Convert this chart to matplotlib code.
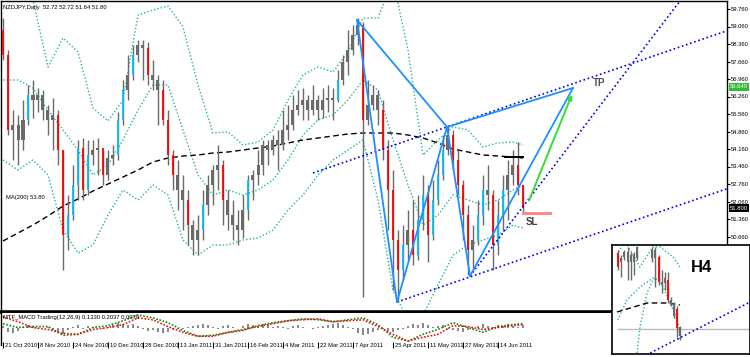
import numpy as np
import matplotlib
matplotlib.use("Agg")
import matplotlib.pyplot as plt
from matplotlib.transforms import ScaledTranslation

plt.rcParams['font.family'] = ['Liberation Sans', 'DejaVu Sans']

symbol = "NZDJPY,Daily"

# daily candles
first_open = 58.92
close = [57.92, 54.92, 55.12, 54.52, 55.32, 56.32, 56.12, 56.32, 55.72, 55.32,
         55.52, 54.12, 50.72, 51.52, 52.72, 54.20, 52.52, 53.92, 54.12, 54.20,
         53.12, 53.80, 53.92, 55.32, 56.52, 57.12, 57.92, 58.32, 58.20, 57.12,
         56.92, 56.52, 55.32, 53.92, 53.12, 52.52, 52.12, 51.12, 50.52, 50.92,
         51.92, 52.72, 53.32, 53.52, 52.12, 51.52, 51.12, 50.92, 51.72, 52.92,
         53.12, 53.52, 54.32, 54.12, 54.52, 54.32, 54.92, 55.12, 55.72, 55.92,
         56.12, 55.72, 56.12, 55.72, 56.12, 56.20, 56.12, 56.92, 57.64, 58.12,
         58.72, 59.12, 55.32, 55.92, 56.32, 55.72, 54.12, 52.52, 50.52, 49.32,
         50.32, 50.92, 49.92, 51.32, 52.32, 50.72, 52.12, 53.12, 54.12, 54.72,
         53.72, 52.72, 51.52, 50.12, 50.52, 51.52, 52.52, 52.32, 50.32, 51.52,
         52.52, 53.12, 53.52, 52.72, 51.80]
high = [59.40, 58.12, 55.72, 55.52, 56.12, 56.72, 56.92, 56.60, 56.52, 55.92,
        56.20, 55.72, 54.12, 52.32, 53.52, 54.52, 54.60, 54.52, 54.52, 54.60,
        54.12, 54.12, 54.32, 55.64, 56.92, 57.92, 58.32, 58.52, 58.52, 58.44,
        57.72, 57.12, 56.92, 55.72, 54.12, 53.72, 53.12, 52.52, 51.32, 51.52,
        52.52, 53.12, 53.52, 54.32, 53.72, 52.52, 52.12, 51.72, 52.32, 53.12,
        53.32, 54.12, 54.52, 54.52, 54.72, 54.92, 55.72, 55.92, 56.32, 56.52,
        56.60, 56.32, 56.72, 56.32, 56.60, 56.72, 56.60, 57.32, 57.92, 58.92,
        59.12, 59.40, 59.24, 56.92, 56.72, 56.52, 56.12, 54.52, 53.32, 50.92,
        51.12, 51.72, 52.12, 52.32, 53.12, 52.72, 52.92, 53.72, 54.72, 55.12,
        54.92, 54.12, 52.92, 51.92, 51.12, 52.12, 53.12, 53.52, 52.52, 52.12,
        53.12, 53.72, 54.12, 54.44, 52.72]
low = [57.72, 54.72, 53.72, 53.52, 54.12, 55.12, 55.40, 55.64, 55.32, 54.72,
       54.12, 53.52, 49.32, 50.12, 51.32, 52.12, 52.12, 52.32, 53.52, 53.12,
       52.72, 52.92, 53.52, 53.72, 55.12, 56.12, 56.92, 57.64, 56.92, 56.72,
       56.52, 55.12, 55.12, 53.52, 52.52, 51.72, 50.92, 50.32, 49.92, 49.92,
       50.52, 51.52, 51.92, 52.52, 51.12, 50.92, 50.52, 50.32, 50.60, 51.32,
       52.12, 52.72, 53.12, 53.52, 53.92, 53.32, 54.12, 54.52, 54.92, 55.52,
       55.32, 55.32, 55.52, 55.32, 55.40, 55.64, 55.32, 56.04, 56.72, 57.12,
       57.92, 58.32, 48.24, 55.12, 55.72, 55.12, 53.72, 50.92, 48.52, 48.12,
       48.92, 49.72, 49.52, 49.72, 50.92, 49.64, 50.52, 51.92, 52.92, 53.92,
       53.32, 52.32, 50.52, 49.12, 49.40, 50.32, 51.12, 51.72, 49.32, 49.92,
       50.92, 51.32, 52.72, 52.32, 51.64]

# indicator samples (every third bar)
ind_idx = [0, 3, 6, 9, 12, 15, 18, 21, 24, 27, 30, 33, 36, 39, 42, 45, 48, 51,
           54, 57, 60, 63, 66, 69, 72, 75, 78, 81, 84, 87, 90, 93, 96, 99, 102, 104]
bb_upper = [61.72, 60.92, 60.12, 57.44, 58.60, 58.04, 55.80, 55.28, 56.12, 59.52,
            59.72, 59.88, 59.04, 56.72, 54.80, 54.84, 54.32, 54.44, 54.92, 56.12,
            57.12, 57.44, 57.24, 58.04, 59.40, 59.40, 60.92, 58.12, 53.92, 54.52,
            55.04, 54.92, 54.24, 54.40, 54.44, 54.32]
bb_mid = [56.92, 56.92, 56.60, 55.72, 54.92, 54.12, 53.12, 53.52, 54.52, 55.72,
          56.72, 56.72, 54.92, 53.12, 52.32, 52.52, 52.32, 52.52, 52.92, 53.72,
          54.72, 55.32, 55.52, 56.12, 56.92, 56.52, 54.52, 52.72, 51.12, 51.52,
          52.32, 52.12, 51.92, 52.12, 52.52, 52.72]
bb_lower = [53.72, 53.32, 53.72, 53.12, 50.92, 50.00, 50.32, 51.52, 52.52, 52.12,
            52.72, 52.32, 50.52, 49.92, 50.32, 50.32, 50.52, 50.60, 50.92, 51.72,
            52.32, 53.12, 53.72, 54.12, 54.52, 52.12, 48.52, 47.32, 47.52, 48.72,
            49.92, 50.32, 50.52, 50.72, 51.12, 51.00]
ma200 = [50.48, 50.80, 51.12, 51.48, 51.88, 52.16, 52.48, 52.76, 53.04, 53.32,
         53.64, 53.80, 53.88, 53.92, 54.00, 54.04, 54.12, 54.20, 54.28, 54.40,
         54.52, 54.60, 54.68, 54.76, 54.80, 54.80, 54.80, 54.72, 54.60, 54.40,
         54.16, 54.04, 53.92, 53.88, 53.84, 53.80]
macd_red = [0.22, 0.12, 0.0, -0.04, -0.12, -0.14, -0.04, 0.0, 0.06, 0.20, 0.16, 0.02,
            -0.10, -0.18, -0.18, -0.10, -0.04, 0.02, 0.08, 0.14, 0.16, 0.18, 0.12, 0.14,
            0.16, 0.02, -0.14, -0.28, -0.20, -0.14, 0.04, 0.02, -0.04, 0.0, 0.04, 0.06]
macd_green = [0.08, 0.0, 0.02, 0.02, -0.16, -0.14, 0.0, 0.04, 0.14, 0.26, 0.20, 0.10,
              -0.06, -0.18, -0.16, -0.10, -0.06, 0.04, 0.10, 0.14, 0.18, 0.16, 0.12, 0.16,
              0.20, 0.06, -0.20, -0.28, -0.14, -0.04, 0.10, 0.0, -0.10, 0.02, 0.06, 0.08]
macd_hist = [0.04, -0.10, -0.12, -0.08, 0.02, 0.06, 0.04, -0.04, 0.00, 0.02, -0.06, -0.10, -0.14, -0.06, 0.02,
             0.06, -0.02, 0.04, 0.02, 0.00, -0.04, 0.02, 0.06, 0.10, 0.08, 0.06, 0.08, 0.04, -0.02, -0.08,
             -0.06, -0.10, -0.12, -0.10, -0.06, -0.04, -0.02, 0.02, 0.04, 0.06, 0.08, 0.06, 0.02, -0.02, 0.04,
             0.06, 0.02, 0.00, 0.04, 0.08, 0.06, 0.04, 0.08, 0.06, 0.02, 0.04, 0.02, -0.02, 0.04, 0.06,
             0.02, 0.00, -0.02, 0.02, 0.04, 0.06, 0.08, 0.10, 0.06, 0.02, -0.02, -0.12, -0.16, -0.14, -0.10,
             -0.06, -0.04, -0.08, -0.10, -0.06, -0.02, 0.04, 0.08, 0.06, 0.10, 0.06, 0.02, 0.04, 0.06, -0.02,
             -0.06, -0.08, -0.10, -0.06, -0.02, 0.04, 0.08, 0.04, 0.02, 0.06, 0.04, 0.08, 0.04, 0.02, 0.06]

# pattern points X A B C D (bar index, price)
pat_x = [70.8, 78.8, 88.8, 93.4, 114.0]
pat_p = [59.32, 48.04, 55.04, 49.08, 56.60]
# trend lines: (x0, p0, x1, p1)
trend_lines = [(62.0, 53.20, 144.8, 58.89),
               (78.8, 48.04, 144.8, 52.57),
               (93.4, 49.08, 137.0, 60.50)]
arrow_from = (105.0, 52.00)
arrow_to = (114.0, 56.44)
sl_price = 51.60
sl_span = (104.0, 109.4)
tp_price = 56.64
mark_price = 53.84
mark_span = (100.4, 104.0)

price_ticks = [59.76, 59.06, 58.36, 57.66, 56.96, 56.26, 55.56, 54.86, 54.16,
               53.46, 52.76, 52.06, 51.36, 50.66, 49.96, 49.26, 48.56]
date_idx = [0, 7, 14, 21, 28, 35, 42, 49, 56, 63, 70, 78, 85, 92, 99]
date_labels = ["21 Oct 2010", "8 Nov 2010", "24 Nov 2010", "10 Dec 2010", "28 Dec 2010",
               "13 Jan 2011", "31 Jan 2011", "16 Feb 2011", "4 Mar 2011", "22 Mar 2011",
               "7 Apr 2011", "25 Apr 2011", "11 May 2011", "27 May 2011", "14 Jun 2011"]

# H4 inset candles
h4_idx = [2, 3, 4, 5, 6, 7, 8, 13, 14, 15, 16, 17, 18, 19, 20, 21, 22]
h4_open = [56.92, 56.83, 56.88, 56.93, 56.83, 56.90, 56.87, 56.95, 56.87, 56.88,
           56.63, 56.62, 56.65, 56.45, 56.41, 56.36, 56.18]
h4_close = [56.78, 56.87, 56.93, 56.83, 56.90, 56.83, 56.98, 56.87, 56.95, 56.63,
            56.60, 56.67, 56.45, 56.41, 56.29, 56.17, 56.09]
h4_high = [56.95, 56.90, 56.95, 56.98, 56.93, 56.93, 56.99, 56.98, 56.98, 56.90,
           56.75, 56.73, 56.73, 56.48, 56.43, 56.39, 56.19]
h4_low = [56.75, 56.68, 56.85, 56.65, 56.65, 56.70, 56.85, 56.83, 56.58, 56.60,
          56.52, 56.55, 56.42, 56.39, 56.27, 56.08, 56.05]
h4_up_x = [1.6, 4.2, 9.0, 13.2, 15.5, 19.7, 21.9]
h4_up_p = [56.90, 57.04, 56.78, 56.98, 56.98, 56.88, 56.78]
h4_lo_x = [1.9, 4.8, 9.0, 13.2, 15.5, 19.7, 21.3, 21.9]
h4_lo_p = [56.25, 56.45, 56.58, 56.67, 56.65, 56.35, 56.22, 56.05]
h4_lo2_x = [8.1, 9.0, 11.3, 13.2, 14.5]
h4_lo2_p = [55.92, 56.18, 56.52, 56.65, 56.67]
h4_ma_x = [1.6, 11.3, 17.7, 21.9]
h4_ma_p = [56.33, 56.42, 56.42, 56.40]
h4_level = 56.16
h4_trend = (12.3, 55.92, 43.9, 56.42)

# colours
GREY = '#6a6a6a'
BAND = '#20b2aa'
BLUE = '#0000ee'
ZIG = '#1e90ff'
FS = 4.2

W, H = 750, 357


def px_box(x0, y0, x1, y1):
    return [x0 / W, 1 - y1 / H, (x1 - x0) / W, (y1 - y0) / H]


def draw_candles(a, idx, o, c, h, l, body_w, thick):
    idx = np.asarray(idx, float)
    o, c, h, l = map(np.asarray, (o, c, h, l))
    a.vlines(idx, l, h, color=GREY, lw=1, zorder=3)
    big_up = (c - o) > thick
    big_dn = (o - c) > thick
    small = ~(big_up | big_dn)
    body = np.where(np.abs(c - o) < 0.02, 0.02, c - o)
    a.bar(idx[small], body[small], bottom=o[small], width=body_w, color=GREY, zorder=3)
    a.vlines(idx[big_up], o[big_up], c[big_up], color='#00bfff', lw=1.3, zorder=4)
    a.vlines(idx[big_dn], o[big_dn], c[big_dn], color='#ff0000', lw=1.3, zorder=4)


fig = plt.figure(figsize=(7.5, 3.57), dpi=100)
fig.patch.set_facecolor('white')

ax = fig.add_axes(px_box(1, 1, 727, 312))
ax_m = fig.add_axes(px_box(1, 313, 727, 345))
ax_h = fig.add_axes(px_box(612, 245, 750, 354))

# ---- main price pane ----
opens = [first_open] + close[:-1]
bars = np.arange(len(close))
draw_candles(ax, bars, opens, close, high, low, 0.6, 0.8)

band_style = dict(color=BAND, lw=1, ls=(0, (1, 1.5)), zorder=2)
ax.plot(ind_idx, bb_upper, **band_style)
ax.plot(ind_idx, bb_mid, **band_style)
ax.plot(ind_idx, bb_lower, **band_style)
ax.plot(ind_idx, ma200, color='black', lw=1, ls=(0, (4, 2.5)), zorder=2)

for x0, p0, x1, p1 in trend_lines:
    ax.plot([x0, x1], [p0, p1], color=BLUE, lw=1.2, ls=(0, (1, 1.6)), zorder=5)

# harmonic pattern legs
legs = [(0, 1), (1, 2), (2, 3), (3, 4), (0, 2), (2, 4)]
for a_, b_ in legs:
    ax.plot([pat_x[a_], pat_x[b_]], [pat_p[a_], pat_p[b_]], color=ZIG, lw=1.3, zorder=6)

ax.annotate('', xy=arrow_to, xytext=arrow_from,
            arrowprops=dict(arrowstyle='-|>', color='#33dd33', lw=1.4, mutation_scale=7),
            zorder=7)
ax.plot(sl_span, [sl_price, sl_price], color='#ff8080', lw=2, zorder=6)
ax.plot(mark_span, [mark_price, mark_price], color='black', lw=1.4, zorder=6)
ax.text(105.8, 51.24, 'SL', fontsize=7, fontweight='bold', color='#404040',
        ha='center', va='center', zorder=8)
ax.text(119.2, 56.80, 'TP', fontsize=7, fontweight='bold', color='#505050',
        ha='center', va='center', zorder=8)

ax.text(0.003, 0.988,
        f"{symbol}  {opens[-1]:.2f} {high[-1]:.2f} {low[-1]:.2f} {close[-1]:.2f}",
        transform=ax.transAxes, fontsize=FS, va='top', ha='left')
ax.text(0.5, 52.24, f"MA(200) {ma200[-1]:.2f}", fontsize=FS, ha='left', va='center')

ax.set_xlim(-0.4, 144.8)
ax.set_ylim(47.64, 60.08)
ax.yaxis.tick_right()
ax.set_yticks(price_ticks)
ax.set_yticklabels([f"{p:.3f}" for p in price_ticks])
ax.tick_params(axis='y', labelsize=FS, length=2, pad=1, width=0.8)
ax.set_xticks([])
for s in ['left', 'top', 'right']:
    ax.spines[s].set_linewidth(1)
ax.spines['bottom'].set_linewidth(2.6)

ytr = ax.get_yaxis_transform()
ax.text(1.004, tp_price, f"{tp_price:.3f}", transform=ytr, fontsize=FS, color='white',
        ha='left', va='center',
        bbox=dict(boxstyle='square,pad=0.2', fc='#33bb33', ec='none'))
ax.text(1.004, close[-1], f"{close[-1]:.3f}", transform=ytr, fontsize=FS, color='white',
        ha='left', va='center',
        bbox=dict(boxstyle='square,pad=0.2', fc='black', ec='none'))

# ---- MACD pane ----
ax_m.bar(np.arange(len(macd_hist)), macd_hist, width=0.25, color='#8a8a8a', zorder=2)
ax_m.plot(ind_idx, macd_green, color='#118811', lw=1.2, ls=(0, (1, 1)), zorder=3)
ax_m.plot(ind_idx, macd_red, color='#ee1111', lw=1.2, ls=(0, (1, 1)), zorder=3)
ax_m.text(0.003, 0.93, "MTF_MACD Trading(12,26,9) 0.1330 0.2037 0.0079",
          transform=ax_m.transAxes, fontsize=FS, va='top', ha='left')
ax_m.set_xlim(-0.4, 144.8)
ax_m.set_ylim(-0.36, 0.30)
ax_m.set_yticks([])
ax_m.set_xticks(date_idx)
ax_m.set_xticklabels(date_labels, fontsize=FS, ha='left')
ax_m.tick_params(axis='x', length=5, pad=-4, width=0.8, direction='inout')
shift = ScaledTranslation(2 / 100, 0, fig.dpi_scale_trans)
for lbl in ax_m.get_xticklabels():
    lbl.set_transform(lbl.get_transform() + shift)
ax_m.spines['top'].set_visible(False)
ax_m.spines['bottom'].set_visible(False)
ax_m.spines['left'].set_linewidth(1)
ax_m.spines['right'].set_linewidth(1)

# ---- H4 inset ----
draw_candles(ax_h, h4_idx, h4_open, h4_close, h4_high, h4_low, 0.6, 0.12)
ax_h.plot(h4_up_x, h4_up_p, **band_style)
ax_h.plot(h4_lo_x, h4_lo_p, **band_style)
ax_h.plot(h4_lo2_x, h4_lo2_p, **band_style)
ax_h.plot(h4_ma_x, h4_ma_p, color='black', lw=1, ls=(0, (4, 2.5)), zorder=2)
ax_h.axhline(h4_level, xmin=0.04, color='#bbbbbb', lw=1, zorder=1)
ax_h.plot([h4_trend[0], h4_trend[2]], [h4_trend[1], h4_trend[3]],
          color=BLUE, lw=1.2, ls=(0, (1, 1.6)), zorder=5)
ax_h.text(29.0, 56.77, 'H4', fontsize=12, fontweight='bold', ha='center', va='center')
ax_h.set_xlim(0, 44.5)
ax_h.set_ylim(55.91, 57.00)
ax_h.set_xticks([])
ax_h.set_yticks([])
ax_h.set_facecolor('white')
for s in ax_h.spines.values():
    s.set_linewidth(1.2)

fig.savefig('out.png', dpi=100)
